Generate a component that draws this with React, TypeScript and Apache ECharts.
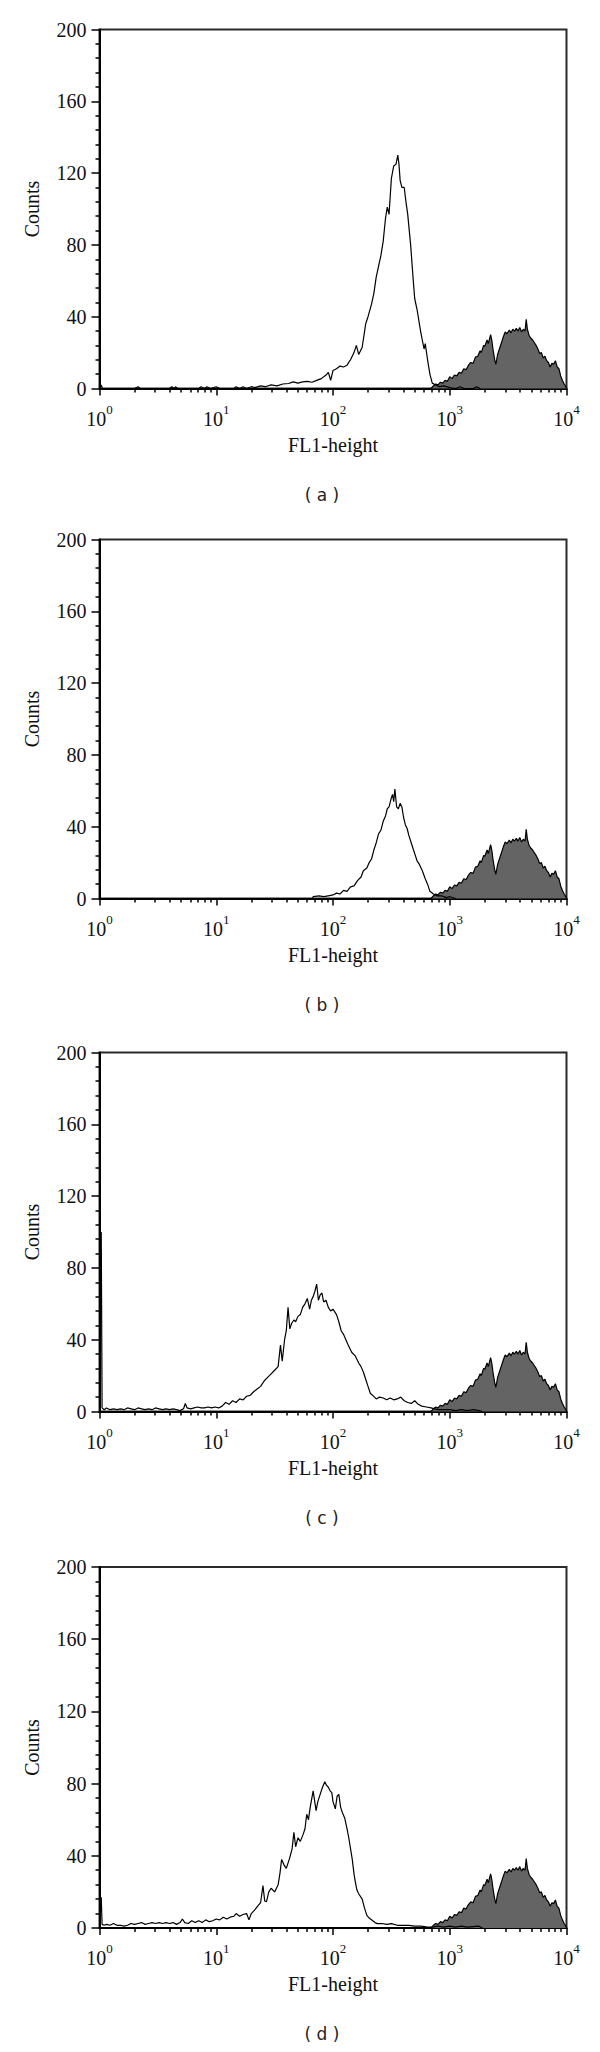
import React, { useEffect, useRef } from "react";
import * as echarts from "echarts";

// ---- Data (x given as log10 of FL1-height, y as counts) ----
const CONTROL_LOG = [2.84, 2.86, 2.88, 2.9, 2.92, 2.94, 2.96, 2.98, 3.0, 3.02, 3.04, 3.06, 3.08, 3.1, 3.12, 3.14, 3.16, 3.18, 3.2, 3.22, 3.24, 3.26, 3.27, 3.29, 3.3, 3.32, 3.33, 3.35, 3.36, 3.37, 3.385, 3.395, 3.41, 3.43, 3.445, 3.46, 3.475, 3.49, 3.51, 3.525, 3.54, 3.555, 3.57, 3.585, 3.6, 3.615, 3.63, 3.645, 3.655, 3.665, 3.68, 3.695, 3.71, 3.725, 3.74, 3.755, 3.77, 3.785, 3.8, 3.815, 3.83, 3.845, 3.86, 3.875, 3.89, 3.905, 3.92, 3.935, 3.95, 3.965, 3.98, 3.995, 4.0];
const CONTROL_COUNT = [0, 1.5, 2.5, 2, 3.5, 3, 4.5, 4, 6.5, 5.5, 7.5, 7, 9, 8.5, 11, 10.5, 13, 14.5, 14, 17.5, 18, 21, 20, 24, 23.5, 27, 25, 30, 27, 22, 16, 13.5, 19, 23, 26, 29, 31.5, 30.5, 32.5, 31, 33, 32, 33.5, 32, 34, 31.5, 33, 32, 38.5, 33, 29.5, 28, 27, 25.5, 24, 22, 19.5, 20, 17, 18, 15.5, 14.5, 12, 14, 13.5, 15.5, 12, 11, 7, 4.5, 2.5, 1, 0];

const A_LOG = [0.015, 0.025, 0.3, 0.33, 0.35, 0.6, 0.62, 0.64, 0.65, 0.67, 0.85, 0.87, 0.9, 0.92, 0.95, 1.0, 1.03, 1.15, 1.17, 1.2, 1.23, 1.26, 1.3, 1.33, 1.38, 1.42, 1.47, 1.52, 1.57, 1.62, 1.66, 1.7, 1.74, 1.78, 1.82, 1.86, 1.9, 1.94, 1.96, 1.98, 2.0, 2.03, 2.06, 2.09, 2.12, 2.15, 2.18, 2.2, 2.22, 2.25, 2.28, 2.3, 2.33, 2.35, 2.37, 2.39, 2.41, 2.43, 2.45, 2.465, 2.48, 2.5, 2.52, 2.54, 2.555, 2.565, 2.575, 2.59, 2.61, 2.625, 2.64, 2.665, 2.69, 2.7, 2.72, 2.75, 2.78, 2.79, 2.81, 2.83, 2.85, 2.88, 2.91, 2.95, 3.0, 3.05, 3.09, 3.12, 3.2, 3.23, 3.26];
const A_COUNT = [2, 0, 0, 1, 0, 0, 1, 0, 1, 0, 0, 1, 0, 1, 0, 1, 0, 0, 1, 0, 1, 0, 1, 0.5, 1.5, 1, 2, 1.5, 2.5, 2.8, 3.7, 3, 3.7, 4, 3.5, 4.5, 5.5, 7.5, 9, 4.6, 10, 11, 12.5, 12, 13, 16, 20, 24, 19, 23, 36, 40, 47, 53, 62, 68, 74, 82, 95, 101, 97, 117, 124, 125, 130, 125, 116, 112, 112, 104, 97, 80, 58, 50, 44, 32, 22, 25, 16, 8, 3, 2, 1, 1.5, 0.5, 0, 1, 0, 0, 1, 0];

const B_LOG = [1.82, 1.83, 1.88, 1.92, 1.96, 2.0, 2.03, 2.06, 2.09, 2.12, 2.15, 2.18, 2.21, 2.24, 2.26, 2.29, 2.31, 2.33, 2.35, 2.37, 2.39, 2.41, 2.43, 2.45, 2.465, 2.48, 2.495, 2.51, 2.52, 2.53, 2.545, 2.56, 2.575, 2.59, 2.605, 2.62, 2.635, 2.65, 2.665, 2.68, 2.7, 2.72, 2.74, 2.765, 2.79, 2.81, 2.83, 2.86, 2.89, 2.93, 2.97, 3.0, 3.05];
const B_COUNT = [0, 1, 1.5, 1, 1.5, 2, 3, 2.5, 4.5, 4, 6.5, 7, 10, 12, 15.5, 17, 20, 22, 27, 31, 36, 38, 43, 46, 50, 51, 55, 58, 54, 61, 51, 50, 53, 51, 45, 41, 39, 35, 32, 29, 25, 21, 19, 15.5, 11, 8, 4, 2.5, 1.5, 1.5, 0.5, 1, 0];

const C_LOG = [0.015, 0.022, 0.04, 0.06, 0.09, 0.12, 0.15, 0.18, 0.21, 0.24, 0.27, 0.3, 0.33, 0.36, 0.39, 0.42, 0.45, 0.48, 0.51, 0.54, 0.57, 0.6, 0.63, 0.66, 0.69, 0.72, 0.735, 0.75, 0.78, 0.81, 0.84, 0.87, 0.9, 0.93, 0.96, 0.99, 1.02, 1.05, 1.08, 1.11, 1.14, 1.17, 1.2, 1.23, 1.26, 1.29, 1.32, 1.35, 1.38, 1.41, 1.44, 1.47, 1.5, 1.53, 1.55, 1.565, 1.585, 1.6, 1.615, 1.63, 1.645, 1.665, 1.68, 1.7, 1.72, 1.74, 1.76, 1.78, 1.8, 1.815, 1.83, 1.845, 1.86, 1.875, 1.89, 1.905, 1.92, 1.94, 1.96, 1.98, 2.0, 2.03, 2.05, 2.07, 2.09, 2.11, 2.13, 2.16, 2.19, 2.22, 2.24, 2.26, 2.28, 2.3, 2.32, 2.34, 2.37, 2.4, 2.43, 2.46, 2.49, 2.52, 2.55, 2.58, 2.61, 2.64, 2.67, 2.7, 2.73, 2.76, 2.8, 2.84, 2.87, 2.9, 2.95, 3.0, 3.05, 3.1, 3.15, 3.2, 3.25, 3.28];
const C_COUNT = [100, 2, 1, 2, 1, 1.5, 1, 1.5, 1, 2, 1.5, 1, 2, 1.5, 1, 1.5, 1, 2, 1.5, 1, 1.5, 1, 1.5, 1, 0.5, 1.5, 4.5, 2, 1.5, 2, 2.5, 2, 2, 2.5, 2, 2.5, 2, 3, 5, 4, 6, 5, 7, 6.5, 8.5, 9, 11, 12.5, 14, 17, 19, 21, 23, 25, 37, 28, 40, 45, 58, 46, 49, 51, 50, 53, 54, 58, 60, 63, 57, 62, 64, 67, 71, 62, 65, 66, 61, 62, 58, 56, 57, 54, 50, 45, 43, 40, 37, 33, 31, 27, 25, 22, 18, 14, 10, 9, 7, 8, 7.5, 6.5, 7.5, 6.5, 7, 8, 6, 5, 4.5, 6, 4, 3, 2.5, 2, 1.5, 1, 1, 1, 0.5, 1, 0.5, 1, 0.5, 0];

const D_LOG = [0.015, 0.022, 0.04, 0.06, 0.09, 0.12, 0.15, 0.18, 0.21, 0.24, 0.27, 0.3, 0.33, 0.36, 0.39, 0.42, 0.45, 0.48, 0.51, 0.54, 0.57, 0.6, 0.63, 0.66, 0.69, 0.71, 0.73, 0.76, 0.79, 0.82, 0.85, 0.88, 0.91, 0.94, 0.97, 1.0, 1.03, 1.06, 1.09, 1.12, 1.15, 1.17, 1.2, 1.23, 1.26, 1.28, 1.3, 1.33, 1.36, 1.38, 1.4, 1.415, 1.43, 1.45, 1.47, 1.5, 1.53, 1.545, 1.56, 1.58, 1.6, 1.63, 1.65, 1.665, 1.68, 1.7, 1.72, 1.745, 1.76, 1.775, 1.79, 1.805, 1.83, 1.855, 1.87, 1.89, 1.91, 1.93, 1.945, 1.96, 1.975, 1.99, 2.0, 2.02, 2.035, 2.05, 2.065, 2.08, 2.1, 2.12, 2.135, 2.15, 2.165, 2.18, 2.19, 2.205, 2.22, 2.25, 2.27, 2.29, 2.31, 2.335, 2.36, 2.38, 2.42, 2.46, 2.5, 2.55, 2.6, 2.65, 2.7, 2.75, 2.8, 2.85, 2.9, 2.95, 3.0, 3.05, 3.1, 3.15, 3.25, 3.28];
const D_COUNT = [17, 2, 1.5, 2, 1.5, 2.5, 1.5, 1.5, 1, 1.5, 2.5, 2, 2.5, 3, 2, 2.5, 3, 2.5, 3, 2.5, 3, 2.5, 3, 2, 3, 5, 3, 2.5, 4, 3, 4, 3, 4.5, 3.5, 4, 5, 4.5, 6, 5, 6, 6.5, 8, 6.5, 7.5, 8, 4.5, 8, 10, 12.5, 14, 23.5, 15, 14.5, 20, 22, 20, 24, 30, 38, 35, 33, 39, 44, 53, 45, 50, 48, 52, 55, 63, 60, 67, 76, 65, 70, 74, 78, 81, 79, 78, 76, 75, 70, 66, 73, 74, 67, 64, 61, 55, 50, 44, 38, 30, 26, 21, 19, 16, 11, 7, 5.5, 4.3, 3, 2.4, 2.5, 2, 2.4, 1.5, 1.5, 1.5, 1, 1, 0.6, 0.5, 1, 0.5, 1, 0.5, 1, 0.5, 1, 0];

const PANEL_LOGS = [A_LOG, B_LOG, C_LOG, D_LOG];
const PANEL_COUNTS = [A_COUNT, B_COUNT, C_COUNT, D_COUNT];
const PANEL_LABELS = ["( a )", "( b )", "( c )", "( d )"];
const X_LABEL = "FL1-height";
const Y_LABEL = "Counts";
const Y_MAX = 200;
const Y_STEP = 40;
const X_MIN = 1;
const X_MAX = 10000;

// ---- Layout ----
const TOPS = [29.5, 539.5, 1052.5, 1567];
const HEIGHTS = [359, 359, 359, 361];
const GRID_LEFT = 99.5;
const GRID_WIDTH = 467;
const SERIF = "'Liberation Serif', 'DejaVu Serif', serif";

const pairs = (logs: number[], counts: number[]) =>
  logs.map((e, i) => [Math.pow(10, e), counts[i]]);

const minorLogTicks: number[] = [];
for (let d = 0; d < 4; d++) {
  for (let k = 2; k <= 9; k++) minorLogTicks.push(d + Math.log10(k));
}

export default function App() {
  const ref = useRef<HTMLDivElement>(null);
  useEffect(() => {
    if (!ref.current) return;
    const chart = echarts.init(ref.current, null, { renderer: "svg" });
    const grid: any[] = [];
    const xAxis: any[] = [];
    const yAxis: any[] = [];
    const series: any[] = [];
    const graphic: any[] = [];
    for (let i = 0; i < 4; i++) {
      grid.push({
        left: GRID_LEFT,
        top: TOPS[i],
        width: GRID_WIDTH,
        height: HEIGHTS[i],
        show: true,
        borderColor: "#2a2a2a",
        borderWidth: 2,
        backgroundColor: "transparent",
      });
      xAxis.push({
        type: "log",
        logBase: 10,
        gridIndex: i,
        min: X_MIN,
        max: X_MAX,
        position: "bottom",
        name: X_LABEL,
        nameLocation: "middle",
        nameGap: 46,
        nameTextStyle: { fontFamily: SERIF, fontSize: 20, color: "#111" },
        axisLine: { show: true, lineStyle: { color: "#000", width: 2 } },
        axisTick: { show: true, inside: false, length: 7, lineStyle: { color: "#000", width: 1.5 } },
        splitLine: { show: false },
        axisLabel: {
          margin: 14,
          formatter: (v: number) => `{b|10}{s|${Math.round(Math.log10(v))}}`,
          rich: {
            b: { fontFamily: SERIF, fontSize: 20, color: "#111", lineHeight: 26, verticalAlign: "bottom" },
            s: { fontFamily: SERIF, fontSize: 13, color: "#111", lineHeight: 14, verticalAlign: "top" },
          },
        },
      });
      xAxis.push({
        type: "value",
        gridIndex: i,
        min: 0,
        max: 4,
        position: "bottom",
        axisLine: { show: false },
        axisLabel: { show: false },
        splitLine: { show: false },
        axisTick: {
          show: true,
          inside: false,
          length: 4,
          customValues: minorLogTicks,
          lineStyle: { color: "#000", width: 1.5 },
        },
      });
      yAxis.push({
        type: "value",
        gridIndex: i,
        min: 0,
        max: Y_MAX,
        interval: Y_STEP,
        name: Y_LABEL,
        nameLocation: "middle",
        nameGap: 58,
        nameTextStyle: { fontFamily: SERIF, fontSize: 20, color: "#111" },
        axisLine: { show: true, lineStyle: { color: "#000", width: 2 } },
        axisTick: { show: true, inside: false, length: 8, lineStyle: { color: "#000", width: 1.5 } },
        minorTick: { show: true, splitNumber: 5, length: 4, lineStyle: { color: "#000", width: 1.5 } },
        splitLine: { show: false },
        axisLabel: { fontFamily: SERIF, fontSize: 20, color: "#111", margin: 13 },
      });
      series.push({
        type: "line",
        xAxisIndex: i * 2,
        yAxisIndex: i,
        data: pairs(CONTROL_LOG, CONTROL_COUNT),
        symbol: "none",
        lineStyle: { color: "#000", width: 1.2 },
        areaStyle: { color: "#646464", opacity: 1 },
        z: 2,
      });
      series.push({
        type: "line",
        xAxisIndex: i * 2,
        yAxisIndex: i,
        data: pairs(PANEL_LOGS[i], PANEL_COUNTS[i]),
        symbol: "none",
        lineStyle: { color: "#000", width: 1.2 },
        z: 3,
      });
      graphic.push({
        type: "text",
        x: 322,
        y: TOPS[i] + HEIGHTS[i] + 106,
        style: {
          text: PANEL_LABELS[i],
          fontFamily: "'DejaVu Sans', sans-serif",
          fontSize: 17,
          fill: "#222",
          textAlign: "center",
          textVerticalAlign: "middle",
        },
      });
    }
    chart.setOption({
      animation: false,
      backgroundColor: "#fff",
      grid,
      xAxis,
      yAxis,
      series,
      graphic,
    });
    return () => chart.dispose();
  }, []);
  return (
    <div
      ref={ref}
      style={{ position: "absolute", left: 0, top: 0, width: 600, height: 2052 }}
    />
  );
}
